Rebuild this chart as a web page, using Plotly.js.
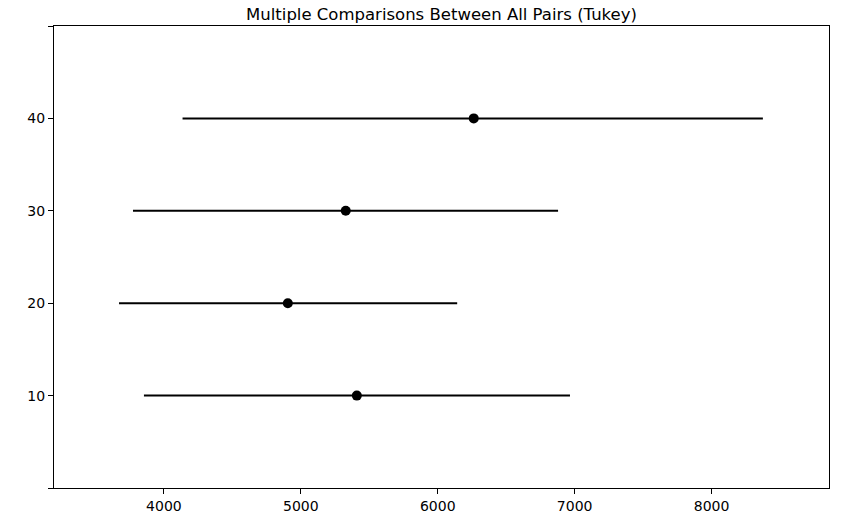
<!DOCTYPE html>
<html>
<head>
<meta charset="utf-8">
<script src="https://cdn.plot.ly/plotly-3.0.1.min.js"></script>
<style>
    html, body { margin: 0; padding: 0; background: #fff; }
    #graph { width: 854px; height: 518px; }
</style>
</head>
<body>
<div id="graph"></div>
<script>
// Tukey HSD simultaneous intervals, one row per group
const groups = [10, 20, 30, 40];
const groupMeans = [5409, 4905, 5328, 6263];
const lowerBounds = [3854, 3672, 3774, 4136];
const upperBounds = [6966, 6142, 6879, 8375];

const yTickVals = [0, 10, 20, 30, 40, 50];
const yTickText = ['', '10', '20', '30', '40', ''];
const xTickVals = [4000, 5000, 6000, 7000, 8000];

let trace = {
    x: groupMeans,
    y: groups,
    mode: 'markers',
    type: 'scatter',
    marker: { color: 'black', size: 10 },
    error_x: {
        type: 'data',
        symmetric: false,
        array: upperBounds.map((u, i) => u - groupMeans[i]),
        arrayminus: lowerBounds.map((l, i) => groupMeans[i] - l),
        color: 'black',
        thickness: 2,
        width: 0
    },
    hoverinfo: 'none'
};

let axisStyle = {
    showline: true,
    linecolor: 'black',
    linewidth: 1,
    mirror: true,
    showgrid: false,
    zeroline: false,
    ticks: 'outside',
    ticklen: 5,
    tickwidth: 1,
    tickcolor: 'black',
    tickfont: { family: 'DejaVu Sans, sans-serif', size: 14, color: 'black' }
};

let layout = {
    width: 854,
    height: 518,
    margin: { l: 54, r: 25, t: 26, b: 30 },
    paper_bgcolor: 'white',
    plot_bgcolor: 'white',
    showlegend: false,
    title: {
        text: 'Multiple Comparisons Between All Pairs (Tukey)',
        font: { family: 'DejaVu Sans, sans-serif', size: 16.5, color: 'black' },
        x: 0.5,
        xref: 'paper',
        y: 1,
        yref: 'paper',
        yanchor: 'bottom',
        pad: { b: 6 }
    },
    xaxis: Object.assign({}, axisStyle, {
        range: [3197, 8858],
        tickvals: xTickVals
    }),
    yaxis: Object.assign({}, axisStyle, {
        range: [0, 50],
        tickvals: yTickVals,
        ticktext: yTickText
    })
};

Plotly.newPlot('graph', [trace], layout, { displayModeBar: false, staticPlot: true });
</script>
</body>
</html>
